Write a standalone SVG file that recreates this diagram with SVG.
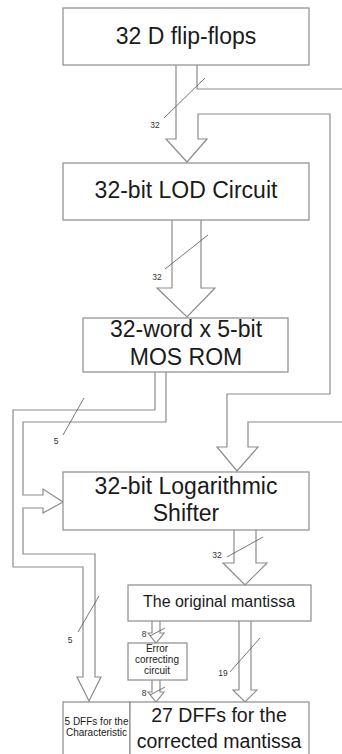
<svg xmlns="http://www.w3.org/2000/svg" width="342" height="754" viewBox="0 0 342 754">
<style>
.box{fill:#fff;stroke:#8c8c8c;stroke-width:1.2}
.bus{fill:none;stroke:#8c8c8c;stroke-width:1.2;stroke-linejoin:miter}
.sl{stroke:#555;stroke-width:0.8}
.t{font-family:"Liberation Sans",Arial,sans-serif;fill:#1a1a1a;text-anchor:middle}
.big{font-size:23px}
.mid{font-size:16px}
.sm{font-size:10px}
.lb{font-family:"Liberation Sans",Arial,sans-serif;fill:#333;font-size:8.5px;text-anchor:middle}
</style>
<rect width="342" height="754" fill="#fff"/>
<g id="connectors">
<path class="bus" d="M176,65 V139 H166 L187,162 L207,139 H198 V114 H330 V394 H227 V447 H217 L237,471 L258,447 H248 V422 H342"/>
<path class="bus" d="M197,65 V89 H342"/>
<path class="bus" d="M172,220 V288 H157 L187,317 L215,288 H201 V220"/>
<path class="bus" d="M155,372 V410 H13 V567 H83 V677 H77 L89,701 L101,677 H95 V554 H23 V508 H43 V513 L63,502 L43,489 V495 H23 V422 H166 V372"/>
<path class="bus" d="M234,530 V563 H223 L245,585 L267,563 H256 V530"/>
<path class="bus" d="M152,621 V633 H148 L156,643 L164,633 H160 V621"/>
<path class="bus" d="M152,680 V692 H148 L156,702 L164,692 H160 V680"/>
<path class="bus" d="M239,621 V690 H233 L245,702 L257,690 H251 V621"/>
<line class="sl" x1="164" y1="118" x2="205" y2="78"/>
<line class="sl" x1="165" y1="269" x2="208" y2="235"/>
<line class="sl" x1="63" y1="435" x2="84" y2="398"/>
<line class="sl" x1="227" y1="557" x2="263" y2="537"/>
<line class="sl" x1="78" y1="632" x2="99" y2="596"/>
<line class="sl" x1="150" y1="636" x2="165" y2="628"/>
<line class="sl" x1="150" y1="695" x2="165" y2="687"/>
<line class="sl" x1="230" y1="672" x2="260" y2="638"/>
<text class="lb" x="155" y="128">32</text>
<text class="lb" x="157" y="280">32</text>
<text class="lb" x="56" y="444">5</text>
<text class="lb" x="217" y="558">32</text>
<text class="lb" x="70" y="643">5</text>
<text class="lb" x="144" y="637">8</text>
<text class="lb" x="144" y="696">8</text>
<text class="lb" x="223" y="676">19</text>
</g>
<g id="dff32">
<rect class="box" x="63" y="8" width="246" height="57"/>
<text class="t big" x="186" y="44">32 D flip-flops</text>
</g>
<g id="lod">
<rect class="box" x="63" y="163" width="246" height="57"/>
<text class="t big" x="186" y="198">32-bit LOD Circuit</text>
</g>
<g id="rom">
<rect class="box" x="83" y="318" width="205" height="54"/>
<text class="t big" x="186" y="337">32-word x 5-bit</text>
<text class="t big" x="186" y="365">MOS ROM</text>
</g>
<g id="shifter">
<rect class="box" x="63" y="472" width="246" height="58"/>
<text class="t big" x="186" y="494">32-bit Logarithmic</text>
<text class="t big" x="186" y="521">Shifter</text>
</g>
<g id="original">
<rect class="box" x="128" y="585" width="183" height="36"/>
<text class="t mid" x="219" y="607">The original mantissa</text>
</g>
<g id="error">
<rect class="box" x="128" y="643" width="59" height="37"/>
<text class="t sm" x="157" y="652">Error</text>
<text class="t sm" x="157" y="663">correcting</text>
<text class="t sm" x="157" y="674">circuit</text>
</g>
<g id="dff5">
<rect class="box" x="63" y="702" width="67" height="60"/>
<text class="t sm" x="96.5" y="725">5 DFFs for the</text>
<text class="t sm" x="96.5" y="736">Characteristic</text>
</g>
<g id="dff27">
<rect class="box" x="130" y="702" width="179" height="60"/>
<text class="t" style="font-size:19.5px" x="219" y="722">27 DFFs for the</text>
<text class="t" style="font-size:19.5px" x="219" y="748">corrected mantissa</text>
</g>
</svg>
